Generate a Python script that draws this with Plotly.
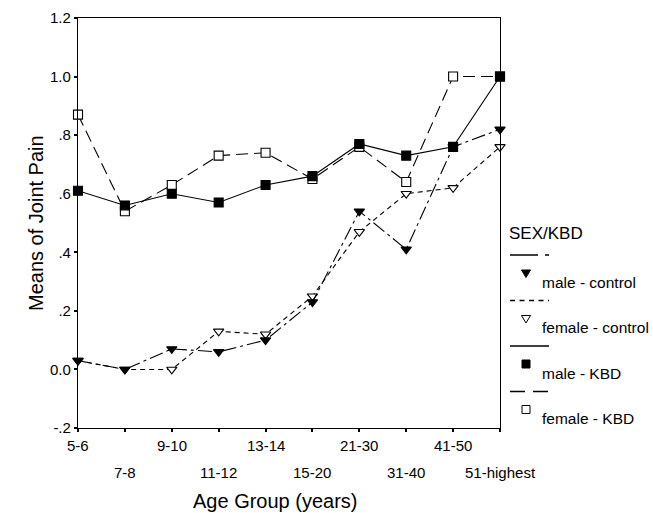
import plotly.graph_objects as go

categories = ["5-6", "7-8", "9-10", "11-12", "13-14", "15-20", "21-30", "31-40", "41-50", "51-highest"]
male_control = [0.03, 0.00, 0.07, 0.06, 0.10, 0.23, 0.54, 0.41, 0.76, 0.82]
female_control = [0.03, 0.00, 0.00, 0.13, 0.12, 0.25, 0.47, 0.60, 0.62, 0.76]
male_kbd = [0.61, 0.56, 0.60, 0.57, 0.63, 0.66, 0.77, 0.73, 0.76, 1.00]
female_kbd = [0.87, 0.54, 0.63, 0.73, 0.74, 0.65, 0.76, 0.64, 1.00, 1.00]
y_ticks = [-0.2, 0.0, 0.2, 0.4, 0.6, 0.8, 1.0, 1.2]
y_ticktext = ["-.2", "0.0", ".2", ".4", ".6", ".8", "1.0", "1.2"]
legend_order = ["male - control", "female - control", "male - KBD", "female - KBD"]

FONT = "Liberation Sans, Arial, sans-serif"
xs = list(range(len(categories)))

TRI = "M-4.5,3 L4.5,3 L0,-4.5 Z"
SQ = "M-4,-4 L4,-4 L4,4 L-4,4 Z"
style = {
    # plot dash, legend dash, marker symbol, fill, legend path
    "male - control": ("14px,4px,3px,4px", "28px,7px,4px,20px", "triangle-down", "black", TRI),
    "female - control": ("5px,4px", "5px,4.5px", "triangle-down", "white", TRI),
    "male - KBD": ("solid", "solid", "square", "black", SQ),
    "female - KBD": ("12px,6px", "15px,8px", "square", "white", SQ),
}
values = {
    "male - control": male_control,
    "female - control": female_control,
    "male - KBD": male_kbd,
    "female - KBD": female_kbd,
}

fig = go.Figure()
for name in ["female - KBD", "female - control", "male - control", "male - KBD"]:
    dash, _, sym, fill, _ = style[name]
    fig.add_trace(go.Scatter(
        x=categories, y=values[name], name=name, mode="lines+markers",
        showlegend=False, cliponaxis=False,
        line=dict(color="black", width=1.1, dash=dash),
        marker=dict(symbol=sym, size=9, color=fill, line=dict(color="black", width=1.1)),
    ))

L, R, T, B = 78, 500, 18, 428
W, H = R - L, B - T


def px(xp):
    return (xp - L) / W


def py(yp):
    return (B - yp) / H


annotations = []
for i, c in enumerate(categories):
    annotations.append(dict(
        x=c, y=0, xref="x", yref="paper", text=c, showarrow=False,
        yanchor="top", yshift=-7 if i % 2 == 0 else -34,
        font=dict(family=FONT, size=15, color="black"),
    ))
annotations.append(dict(
    x=px(275), y=0, xref="paper", yref="paper", text="Age Group (years)",
    showarrow=False, yanchor="top", yshift=-60,
    font=dict(family=FONT, size=20, color="black"),
))
annotations.append(dict(
    x=px(23), y=0.5, xref="paper", yref="paper",
    text="Means of Joint Pain", showarrow=False, textangle=-90,
    font=dict(family=FONT, size=20, color="black"),
))

# legend (drawn manually to mimic the original layout)
shapes = []
annotations.append(dict(
    x=px(507), y=py(233), xref="paper", yref="paper", text="SEX/KBD", showarrow=False,
    xanchor="left", yanchor="middle", font=dict(family=FONT, size=17, color="black"),
))
row0, step = 255, 45.5
for k, name in enumerate(legend_order):
    _, ldash, _, fill, path = style[name]
    yl = row0 + k * step
    shapes.append(dict(
        type="line", xref="paper", yref="paper", x0=px(510), x1=px(549), y0=py(yl), y1=py(yl),
        line=dict(color="black", width=1.3, dash=ldash),
    ))
    shapes.append(dict(
        type="path", xref="paper", yref="paper", xsizemode="pixel", ysizemode="pixel",
        xanchor=px(526), yanchor=py(yl + 18), path=path, fillcolor=fill,
        line=dict(color="black", width=1),
    ))
    annotations.append(dict(
        x=px(540), y=py(yl + 27), xref="paper", yref="paper", text=name, showarrow=False,
        xanchor="left", yanchor="middle", font=dict(family=FONT, size=15.5, color="black"),
    ))

fig.update_layout(
    width=653, height=513,
    margin=dict(l=L, r=653 - R, t=T, b=513 - B, autoexpand=False),
    paper_bgcolor="white", plot_bgcolor="white", showlegend=False,
    font=dict(family=FONT, size=15, color="black"),
    xaxis=dict(
        type="category", categoryorder="array", categoryarray=categories,
        range=[0, 9], showticklabels=False, ticks="outside", ticklen=3,
        tickwidth=2, tickcolor="black", showline=True, linecolor="black", linewidth=1.2,
        mirror=True, showgrid=False, zeroline=False,
    ),
    yaxis=dict(
        range=[-0.2, 1.2], tickvals=y_ticks, ticktext=y_ticktext, ticks="outside",
        ticklen=3, tickwidth=2, tickcolor="black", showline=True, linecolor="black",
        linewidth=1.2, mirror=True, showgrid=False, zeroline=False,
        tickfont=dict(family=FONT, size=15, color="black"),
    ),
    annotations=annotations,
    shapes=shapes,
)

fig.write_html("out.html")
